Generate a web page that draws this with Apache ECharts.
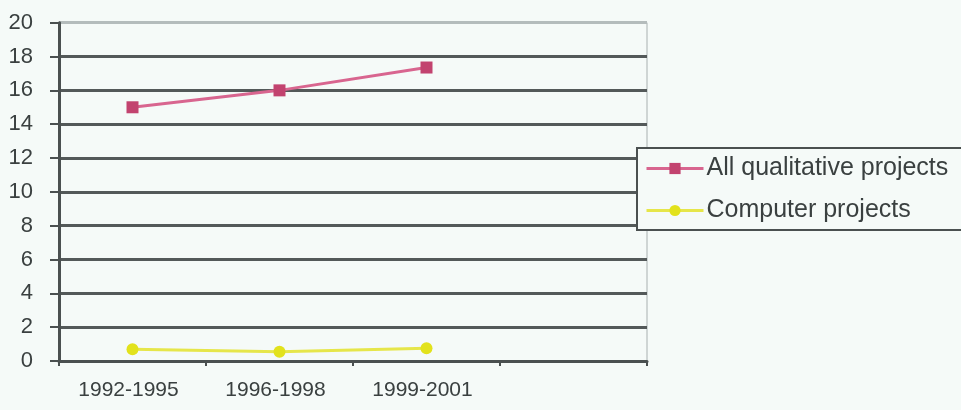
<!DOCTYPE html>
<html>
<head>
<meta charset="utf-8">
<script src="https://cdn.jsdelivr.net/npm/echarts@6/dist/echarts.min.js"></script>
<style>
html,body{margin:0;padding:0;background:#f5faf8;}
#chart{width:961px;height:410px;}
</style>
</head>
<body>
<div id="chart"></div>
<script>
var categories = ['1992-1995', '1996-1998', '1999-2001', ''];
var allQualitative = [15, 16, 17.35, null];
var computerProjects = [0.7, 0.55, 0.75, null];
var seriesNames = ['All qualitative projects', 'Computer projects'];

var font = 'Liberation Sans, Arial, sans-serif';
var gridColors = ['#535959','#535959','#535959','#535959','#535959','#535959','#535959','#535959','#535959','#535959','#b4bcbc'];

var chart = echarts.init(document.getElementById('chart'), null, {renderer: 'canvas'});
chart.setOption({
  backgroundColor: '#f5faf8',
  animation: false,
  grid: {left: 59, right: 314, top: 22.7, bottom: 49, show: true, borderColor: '#a8b0b0', borderWidth: 1, backgroundColor: 'transparent'},
  legend: {
    orient: 'vertical',
    left: 637, top: 148,
    padding: [8, 40, 7, 8],
    borderColor: '#4a5050', borderWidth: 2,
    backgroundColor: '#f5faf8',
    itemWidth: 57, itemHeight: 14, itemGap: 17,
    lineStyle: {width: 3},
    textStyle: {fontFamily: font, fontSize: 25, color: '#3a4040', lineHeight: 24, padding: [0,0,0,-2]},
    data: seriesNames
  },
  xAxis: {
    type: 'category',
    data: categories,
    boundaryGap: true,
    axisLine: {lineStyle: {color: '#4a5050', width: 3}},
    axisTick: {show: true, length: 5, lineStyle: {color: '#4a5050', width: 2}},
    axisLabel: {fontFamily: font, fontSize: 21, color: '#3a4040', margin: 19, interval: 0, padding: [0, 8, 0, 0]}
  },
  yAxis: {
    type: 'value',
    min: 0, max: 20, interval: 2,
    axisLine: {show: true, lineStyle: {color: '#4a5050', width: 3}},
    axisTick: {show: true, length: 9, lineStyle: {color: '#4a5050', width: 2}},
    axisLabel: {fontFamily: font, fontSize: 22, color: '#3a4040', margin: 26},
    splitLine: {show: true, lineStyle: {color: gridColors, width: 3}}
  },
  series: [
    {
      name: seriesNames[0], type: 'line', data: allQualitative,
      symbol: 'rect', symbolSize: 12,
      lineStyle: {color: '#d8658f', width: 3},
      itemStyle: {color: '#c2436f'},
      z: 5
    },
    {
      name: seriesNames[1], type: 'line', data: computerProjects,
      symbol: 'circle', symbolSize: 12,
      lineStyle: {color: '#e6e64a', width: 3},
      itemStyle: {color: '#e2e21c'},
      z: 5
    }
  ]
});
</script>
</body>
</html>
